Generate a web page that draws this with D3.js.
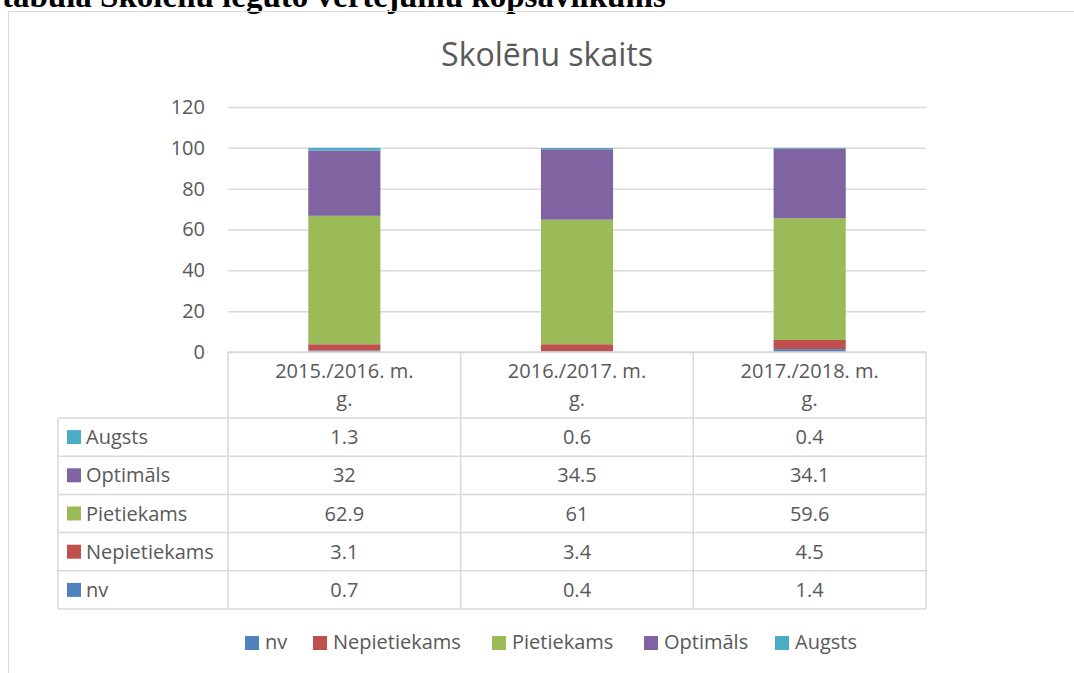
<!DOCTYPE html>
<html>
<head>
<meta charset="utf-8">
<script src="https://cdn.jsdelivr.net/npm/d3@7"></script>
<style>
  body { margin: 0; background: #fff; }
  svg { display: block; }
</style>
</head>
<body>
<svg id="chart" width="1074" height="673"></svg>
<script>
// data
const categories = ['2015./2016. m. g.', '2016./2017. m. g.', '2017./2018. m. g.'];
const seriesNames = ['nv', 'Nepietiekams', 'Pietiekams', 'Optimāls', 'Augsts'];
const nv = [0.7, 0.4, 1.4];
const nepietiekams = [3.1, 3.4, 4.5];
const pietiekams = [62.9, 61, 59.6];
const optimals = [32, 34.5, 34.1];
const augsts = [1.3, 0.6, 0.4];
const yTicks = [0, 20, 40, 60, 80, 100, 120];

const values = [nv, nepietiekams, pietiekams, optimals, augsts];
const colors = ['#4F81BD', '#C0504D', '#9BBB59', '#8064A2', '#4BACC6'];
const textColor = '#595959', gridColor = '#d9d9d9';
const font = '"Open Sans", sans-serif';
const fs = 20;

let svg = d3.select('#chart');

// heading of the page above the chart (cut off at the top, as in the source)
svg.append('text')
    .attr('x', 2).attr('y', 7)
    .attr('font-family', '"Liberation Serif", serif')
    .attr('font-weight', 'bold')
    .attr('font-size', 33)
    .attr('fill', '#000')
    .text('tabula Skolēnu iegūto vērtējumu kopsavilkums');

// chart frame
svg.append('rect')
    .attr('x', 8.5).attr('y', 11.5)
    .attr('width', 1100).attr('height', 700)
    .attr('fill', 'none')
    .attr('stroke', gridColor);

svg.append('text')
    .attr('x', 547).attr('y', 66)
    .attr('text-anchor', 'middle')
    .attr('font-family', font)
    .attr('font-size', 32)
    .attr('fill', textColor)
    .text('Skolēnu skaits');

let plotLeft = 228, plotRight = 926, plotTop = 107, plotBottom = 352;

let x = d3.scaleBand().domain(categories).range([plotLeft, plotRight])
    .paddingInner(0.69).paddingOuter(0.345);
let col = d3.scaleBand().domain(categories).range([plotLeft, plotRight]);
let y = d3.scaleLinear().domain([0, 120]).range([plotBottom, plotTop]);

// gridlines
svg.append('g')
    .attr('transform', `translate(${plotLeft},0)`)
    .call(d3.axisLeft(y).tickValues(yTicks).tickSize(-(plotRight - plotLeft)).tickFormat(''))
    .call(g => g.select('.domain').remove())
    .call(g => g.selectAll('line').attr('stroke', gridColor).attr('stroke-width', 1.5));

// y labels
svg.append('g')
    .attr('transform', `translate(${plotLeft - 20},0)`)
    .call(d3.axisLeft(y).tickValues(yTicks).tickSize(0).tickPadding(3))
    .call(g => g.select('.domain').remove())
    .call(g => g.selectAll('text')
        .attr('font-family', font).attr('font-size', fs).attr('fill', textColor));

// stacked bars
let rows = categories.map((c, i) => {
    let r = { cat: c };
    seriesNames.forEach((s, j) => r[s] = values[j][i]);
    return r;
});
let stacked = d3.stack().keys(seriesNames)(rows);

svg.append('g')
    .selectAll('g')
    .data(stacked)
    .enter()
    .append('g')
    .attr('fill', (d, i) => colors[i])
    .selectAll('rect')
    .data(d => d)
    .enter()
    .append('rect')
    .attr('x', d => x(d.data.cat))
    .attr('y', d => y(d[1]))
    .attr('width', x.bandwidth())
    .attr('height', d => y(d[0]) - y(d[1]));

// data table under the plot
let tableLeft = 58, headerBottom = 418, tableBottom = 609;
let rowOrder = seriesNames.slice().reverse();
let rowY = d3.scaleBand().domain(rowOrder).range([headerBottom, tableBottom]);

let table = svg.append('g')
    .attr('stroke', gridColor)
    .attr('stroke-width', 1.5);

// header top line and horizontal row lines
table.append('line')
    .attr('x1', plotLeft).attr('x2', plotRight)
    .attr('y1', plotBottom).attr('y2', plotBottom);
rowOrder.forEach(s => {
    table.append('line')
        .attr('x1', tableLeft).attr('x2', plotRight)
        .attr('y1', rowY(s)).attr('y2', rowY(s));
});
table.append('line')
    .attr('x1', tableLeft).attr('x2', plotRight)
    .attr('y1', tableBottom).attr('y2', tableBottom);

// vertical lines
table.append('line')
    .attr('x1', tableLeft).attr('x2', tableLeft)
    .attr('y1', headerBottom).attr('y2', tableBottom);
categories.forEach(c => {
    table.append('line')
        .attr('x1', col(c)).attr('x2', col(c))
        .attr('y1', plotBottom).attr('y2', tableBottom);
});
table.append('line')
    .attr('x1', plotRight).attr('x2', plotRight)
    .attr('y1', plotBottom).attr('y2', tableBottom);

// header text, wrapped on two lines
categories.forEach(c => {
    let parts = [c.slice(0, c.length - 3), c.slice(c.length - 2)];
    parts.forEach((p, k) => {
        svg.append('text')
            .attr('x', col(c) + col.bandwidth() / 2)
            .attr('y', 378 + k * 28)
            .attr('text-anchor', 'middle')
            .attr('font-family', font).attr('font-size', fs)
            .attr('fill', textColor)
            .text(p);
    });
});

// row labels with colour keys, and values
rowOrder.forEach(s => {
    let j = seriesNames.indexOf(s);
    let cy = rowY(s) + rowY.bandwidth() / 2;
    svg.append('rect')
        .attr('x', 67).attr('y', cy - 7)
        .attr('width', 14).attr('height', 14)
        .attr('fill', colors[j]);
    svg.append('text')
        .attr('x', 86).attr('y', cy + 7)
        .attr('font-family', font).attr('font-size', fs)
        .attr('fill', textColor)
        .text(s);
    categories.forEach((c, i) => {
        svg.append('text')
            .attr('x', col(c) + col.bandwidth() / 2)
            .attr('y', cy + 7)
            .attr('text-anchor', 'middle')
            .attr('font-family', font).attr('font-size', fs)
            .attr('fill', textColor)
            .text(values[j][i]);
    });
});

// legend at the bottom
let legendX = [245, 313, 492, 644, 775];
seriesNames.forEach((s, j) => {
    svg.append('rect')
        .attr('x', legendX[j]).attr('y', 636)
        .attr('width', 14).attr('height', 14)
        .attr('fill', colors[j]);
    svg.append('text')
        .attr('x', legendX[j] + 20).attr('y', 649)
        .attr('font-family', font).attr('font-size', fs)
        .attr('fill', textColor)
        .text(s);
});
</script>
</body>
</html>
